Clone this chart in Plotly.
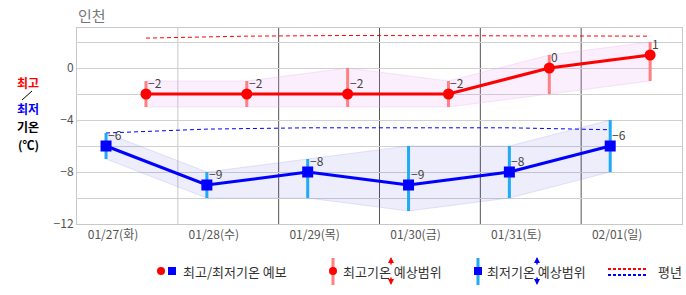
import plotly.graph_objects as go

# ---- data ----
days = ["01/27(화)", "01/28(수)", "01/29(목)", "01/30(금)", "01/31(토)", "02/01(일)"]
tmax = [-2, -2, -2, -2, 0, 1]
tmax_lo = [-3, -3, -3, -3, -2, -1]
tmax_hi = [-1, -1, 0, -1, 1, 2]
tmin = [-6, -9, -8, -9, -8, -6]
tmin_lo = [-7, -10, -10, -11, -10, -8]
tmin_hi = [-5, -8, -7, -6, -6, -4]
norm_max = [2.3, 2.45, 2.5, 2.5, 2.5, 2.45]
norm_min = [-5.0, -4.7, -4.6, -4.6, -4.6, -4.75]

# time-of-day offsets (fraction of a day) for min / max observations and labels
MIN_OFF, MAX_OFF, LBL_OFF = 0.288, 0.684, 0.357
n = len(days)
xmin = [i + MIN_OFF for i in range(n)]
xmax = [i + MAX_OFF for i in range(n)]

FONT = "Noto Sans CJK KR"
RED = "#ff0000"
BLUE = "#0000ff"
RED_BAR = "#ff8080"
BLUE_BAR = "#1eaaf5"

fig = go.Figure()

# bands
fig.add_trace(go.Scatter(x=xmax + xmax[::-1], y=tmax_hi + tmax_lo[::-1], fill="toself",
                         fillcolor="rgba(230,150,240,0.16)", line=dict(color="rgba(235,180,240,0.35)", width=1),
                         mode="lines", hoverinfo="skip", showlegend=False))
fig.add_trace(go.Scatter(x=xmin + xmin[::-1], y=tmin_hi + tmin_lo[::-1], fill="toself",
                         fillcolor="rgba(0,0,200,0.07)", line=dict(color="rgba(150,150,230,0.25)", width=1),
                         mode="lines", hoverinfo="skip", showlegend=False))

# normals
fig.add_trace(go.Scatter(x=xmax, y=norm_max, mode="lines", line=dict(color=RED, width=1, dash="4px,3px"),
                         hoverinfo="skip", showlegend=False))
fig.add_trace(go.Scatter(x=xmin, y=norm_min, mode="lines", line=dict(color=BLUE, width=1, dash="4px,3px"),
                         hoverinfo="skip", showlegend=False))

# range bars
def bars(xs, lo, hi):
    bx, by = [], []
    for x, a, b in zip(xs, lo, hi):
        bx += [x, x, None]
        by += [a, b, None]
    return bx, by

bx, by = bars(xmax, tmax_lo, tmax_hi)
fig.add_trace(go.Scatter(x=bx, y=by, mode="lines", line=dict(color=RED_BAR, width=3), hoverinfo="skip", showlegend=False))
bx, by = bars(xmin, tmin_lo, tmin_hi)
fig.add_trace(go.Scatter(x=bx, y=by, mode="lines", line=dict(color=BLUE_BAR, width=3), hoverinfo="skip", showlegend=False))

# main lines
lbl = lambda v: str(v).replace("-", "−")
fig.add_trace(go.Scatter(x=xmax, y=tmax, mode="lines+markers", line=dict(color=RED, width=3),
                         marker=dict(symbol="circle", size=11, color=RED), showlegend=False))
fig.add_trace(go.Scatter(x=xmin, y=tmin, mode="lines+markers", line=dict(color=BLUE, width=3),
                         marker=dict(symbol="square", size=11, color=BLUE), showlegend=False))

annotations = []
# value labels
for xs, vs in [(xmax, tmax), (xmin, tmin)]:
    for x, v in zip(xs, vs):
        annotations.append(dict(text=lbl(v), x=x, y=v, xref="x", yref="y", xanchor="left", yanchor="bottom",
                                xshift=0, yshift=1, showarrow=False,
                                font=dict(family=FONT, size=12, color="#444")))

# day separators
shapes = []
for i in range(1, n):
    shapes.append(dict(type="line", xref="x", yref="paper", x0=i, x1=i, y0=0, y1=1,
                       line=dict(color="#c8c8c8" if i == 1 else "#555555", width=1), layer="below"))

# pixel -> paper helpers
L, R, T, B = 77, 682, 28, 224
W, H = 686, 295
def px(x):
    return (x - L) / (R - L)
def py(y):
    return (B - y) / (B - T)

# title
annotations.append(dict(text="인천", x=px(76), y=py(16), xref="paper", yref="paper", xanchor="left", yanchor="middle",
                        showarrow=False, font=dict(family=FONT, size=15, color="#777")))
# left axis title
for txt, y, col in [("최고", 82, RED), ("최저", 108.5, BLUE), ("기온", 126.5, "#000"), ("(℃)", 144.5, "#000")]:
    annotations.append(dict(text=f"<b>{txt}</b>", x=px(28), y=py(y), xref="paper", yref="paper",
                            xanchor="center", yanchor="middle", showarrow=False, borderpad=0,
                            font=dict(family=FONT, size=12, color=col)))
shapes.append(dict(type="line", xref="paper", yref="paper", x0=px(22), y0=py(100), x1=px(32), y1=py(91),
                   line=dict(color="#000", width=1)))

# legend
LY = 271
def circ(cx, cy, r, col):
    shapes.append(dict(type="circle", xref="paper", yref="paper", x0=px(cx - r), x1=px(cx + r),
                       y0=py(cy + r), y1=py(cy - r), fillcolor=col, line=dict(width=0)))
def rect(x0, y0, x1, y1, col):
    shapes.append(dict(type="rect", xref="paper", yref="paper", x0=px(x0), x1=px(x1),
                       y0=py(y1), y1=py(y0), fillcolor=col, line=dict(width=0)))
def text(t, x, y, col="#333"):
    annotations.append(dict(text=t, x=px(x), y=py(y), xref="paper", yref="paper", xanchor="left",
                            yanchor="middle", showarrow=False, font=dict(family=FONT, size=13, color=col)))
def arrow(x, col):
    for y0, y1 in [(266, 257), (276, 285)]:
        annotations.append(dict(text="", x=px(x), y=py(y1), ax=0, ay=y0 - y1, xref="paper", yref="paper",
                                axref="pixel", ayref="pixel", showarrow=True, arrowhead=2, arrowsize=0.8,
                                arrowwidth=1.5, arrowcolor=col))

circ(161, LY, 4, RED)
rect(168, LY - 4, 176, LY + 4, BLUE)
text("최고/최저기온 예보", 181, LY)

rect(331.5, 258, 334.5, 285, RED_BAR)
circ(333, LY, 4, RED)
text("최고기온 예상범위", 341, LY)
arrow(391, RED)

rect(476.5, 258, 479.5, 285, BLUE_BAR)
rect(474, LY - 4, 482, LY + 4, BLUE)
text("최저기온 예상범위", 485, LY)
arrow(537, BLUE)

shapes.append(dict(type="line", xref="paper", yref="paper", x0=px(608), x1=px(646), y0=py(269), y1=py(269),
                   line=dict(color=RED, width=2, dash="3px,2px")))
shapes.append(dict(type="line", xref="paper", yref="paper", x0=px(608), x1=px(646), y0=py(275), y1=py(275),
                   line=dict(color=BLUE, width=2, dash="3px,2px")))
text("평년", 656, LY)

yvals = list(range(-12, 4, 2))
fig.update_layout(
    width=W, height=H, margin=dict(l=L, r=W - R, t=T, b=H - B),
    paper_bgcolor="white", plot_bgcolor="white", showlegend=False,
    shapes=shapes, annotations=annotations,
    xaxis=dict(range=[0, n], tickvals=[i + LBL_OFF for i in range(n)], ticktext=days, showgrid=False,
               zeroline=False, showline=True, mirror=True, linecolor="#c8c8c8", linewidth=1, ticks="",
               tickfont=dict(family=FONT, size=12, color="#555"), fixedrange=True),
    yaxis=dict(range=[-12, 40 / 13], tickvals=yvals,
               ticktext=[lbl(v) if v % 4 == 0 else "" for v in yvals], showgrid=True, gridcolor="#d0d0d0",
               gridwidth=1, zeroline=False, showline=True, mirror=True, linecolor="#c8c8c8", linewidth=1,
               ticks="", tickfont=dict(family=FONT, size=12, color="#555"), fixedrange=True),
)

fig.write_html("out.html")
